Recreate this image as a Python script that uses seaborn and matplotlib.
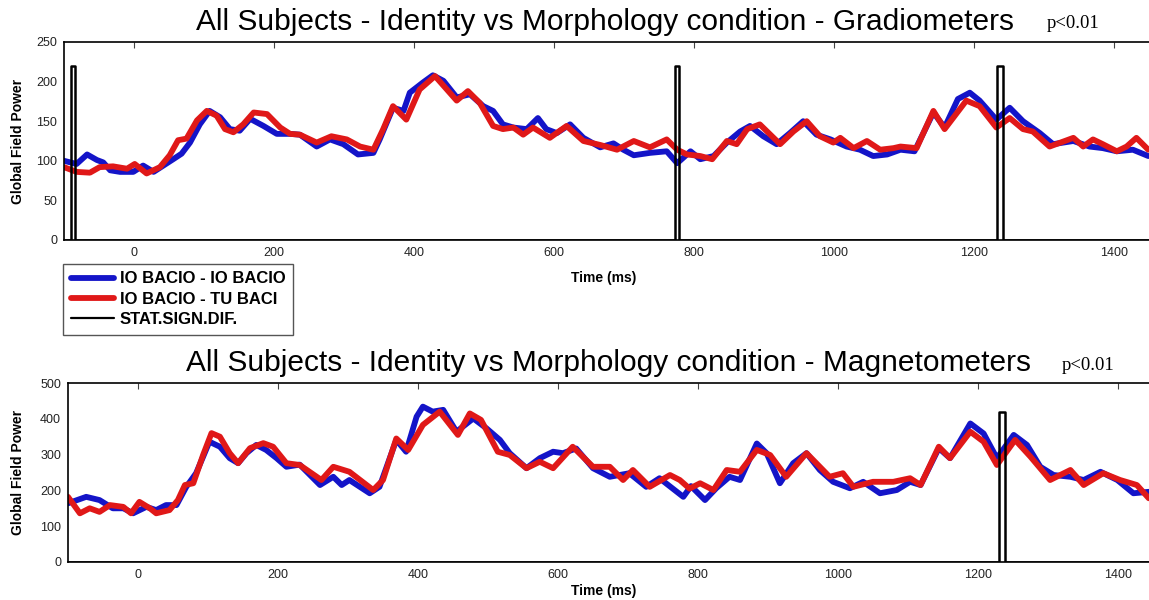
import numpy as np
import pandas as pd
import matplotlib
matplotlib.use("Agg")
import matplotlib.pyplot as plt
import seaborn as sns

# ---------------- data ----------------
grad_blue_t = [-100, -82, -67, -53, -44, -34, -20, -1, 13, 28, 42, 56, 68, 80, 94, 108, 123, 137, 151, 166,
               185, 204, 223, 237, 261, 280, 299, 320, 342, 351, 370, 385, 394, 413, 427, 442, 461, 480, 499,
               513, 527, 542, 561, 577, 589, 604, 623, 642, 666, 685, 699, 714, 737, 761, 776, 795, 809, 828,
               847, 866, 880, 899, 918, 937, 956, 975, 995, 1018, 1037, 1056, 1076, 1095, 1115, 1142, 1158,
               1177, 1194, 1208, 1232, 1251, 1270, 1294, 1313, 1342, 1365, 1384, 1404, 1427, 1449]
grad_blue_v = [100, 96, 108, 101, 98, 88, 86, 86, 94, 86, 94, 102, 109, 123, 146, 163, 155, 140, 138, 153,
               144, 134, 134, 133, 118, 127, 121, 108, 110, 127, 167, 163, 186, 199, 208, 201, 180, 184, 169,
               163, 146, 142, 140, 154, 140, 135, 146, 129, 117, 122, 114, 107, 110, 112, 97, 112, 102, 106,
               123, 137, 144, 131, 121, 135, 150, 133, 127, 118, 114, 106, 108, 114, 112, 161, 142,
               178, 186, 176, 152, 167, 150, 135, 121, 125, 118, 116, 112, 114, 106]

grad_red_t = [-100, -82, -63, -49, -30, -10, 1, 18, 37, 51, 63, 75, 90, 104, 118, 130, 142, 156, 171, 190,
              209, 223, 237, 261, 282, 304, 323, 342, 356, 370, 389, 408, 430, 447, 461, 477, 494, 513, 527,
              542, 556, 570, 594, 618, 642, 666, 690, 714, 737, 761, 776, 790, 809, 826, 847, 861, 876, 894,
              923, 942, 961, 980, 999, 1009, 1028, 1047, 1066, 1085, 1095, 1118, 1142, 1158, 1189, 1208,
              1232, 1251, 1270, 1284, 1308, 1342, 1356, 1370, 1384, 1404, 1418, 1432, 1449]
grad_red_v = [92, 86, 85, 92, 93, 90, 96, 84, 92, 107, 126, 128, 151, 163, 157, 140, 136, 146, 161, 159,
              142, 134, 133, 123, 131, 127, 118, 114, 140, 169, 152, 190, 207, 190, 176, 188, 173, 144, 140,
              142, 133, 142, 129, 144, 125, 120, 114, 125, 117, 127, 114, 108, 106, 102, 125, 121, 140, 146,
              121, 137, 150, 131, 123, 129, 116, 125, 114, 116, 118, 116, 163, 140, 176, 169,
              142, 154, 140, 137, 118, 129, 118, 127, 121, 112, 118, 129, 114]

mag_blue_t = [-100, -74, -55, -36, -21, -7, 12, 26, 40, 55, 69, 83, 93, 102, 117, 131, 143, 155, 169, 183,
              198, 212, 231, 260, 279, 291, 302, 331, 345, 369, 383, 398, 407, 421, 436, 455, 479, 498, 517,
              531, 555, 574, 593, 607, 626, 650, 674, 702, 726, 745, 779, 790, 810, 826, 845, 860, 884, 898,
              917, 936, 955, 974, 993, 1017, 1036, 1060, 1084, 1103, 1118, 1144, 1160, 1189, 1208, 1227,
              1251, 1270, 1289, 1308, 1332, 1351, 1375, 1399, 1422, 1444]
mag_blue_v = [164, 182, 173, 150, 150, 136, 154, 145, 159, 159, 210, 248, 294, 336, 322, 290, 276, 304, 327, 313,
              290, 266, 272, 215, 238, 215, 229, 192, 210, 341, 308, 406, 434, 420, 425, 364, 401, 373, 341,
              304, 262, 290, 308, 304, 317, 262, 238, 248, 210, 234, 182, 212, 173, 206, 238, 229, 331, 304,
              220, 276, 304, 257, 224, 206, 224, 192, 201, 224, 215, 318, 290, 387, 359, 290,
              355, 327, 266, 243, 238, 229, 252, 229, 192, 196]

mag_red_t = [-100, -83, -69, -55, -40, -21, -10, 2, 17, 26, 45, 57, 67, 79, 93, 105, 117, 131, 143, 160,
             179, 193, 212, 231, 262, 279, 302, 336, 350, 369, 386, 407, 431, 457, 474, 490, 514, 531, 555,
             574, 593, 621, 650, 674, 693, 707, 731, 760, 774, 788, 803, 822, 841, 860, 884, 903, 926, 955,
             974, 988, 1007, 1022, 1050, 1079, 1103, 1118, 1144, 1160, 1189, 1208, 1227, 1253, 1275, 1303,
             1332, 1351, 1379, 1403, 1427, 1444]
mag_red_v = [182, 136, 150, 140, 159, 154, 136, 168, 150, 136, 145, 173, 215, 220, 299, 360, 350, 304, 276, 318,
             332, 322, 276, 271, 229, 266, 252, 201, 229, 345, 313, 383, 420, 355, 415, 397, 308, 299, 262,
             280, 262, 322, 266, 266, 229, 257, 210, 243, 229, 205, 220, 201, 257, 252, 313, 299, 238, 304,
             266, 238, 248, 210, 224, 224, 234, 215, 322, 290, 364, 336, 271, 341, 294, 229,
             257, 215, 248, 229, 215, 178]

# significance windows (ms) and marker heights
grad_sig_windows = [(-90, -84), (773, 779), (1233, 1241)]
grad_sig_height = 220
mag_sig_windows = [(1230, 1239)]
mag_sig_height = 420

labels = ["IO BACIO - IO BACIO", "IO BACIO - TU BACI", "STAT.SIGN.DIF."]
title_grad = "All Subjects - Identity vs Morphology condition - Gradiometers"
title_mag = "All Subjects - Identity vs Morphology condition - Magnetometers"
x_ticks = [0, 200, 400, 600, 800, 1000, 1200, 1400]
grad_yticks = [0, 50, 100, 150, 200, 250]
mag_yticks = [0, 100, 200, 300, 400, 500]
t_min, t_max = -100, 1460

# ---------------- style ----------------
sns.set_style("white")
plt.rcParams["font.family"] = ["Liberation Sans", "DejaVu Sans"]
plt.rcParams["text.color"] = "black"

BLUE = "#1414c8"
RED = "#e01818"

W, H = 1149, 600
fig = plt.figure(figsize=(W / 100, H / 100), dpi=100)


def px_axes(left, top, right, bottom):
    return fig.add_axes([left / W, 1 - bottom / H, (right - left) / W, (bottom - top) / H])


def sig_trace(windows, height):
    ts, vs = [t_min], [0]
    for a, b in windows:
        ts += [a, a, b, b]
        vs += [0, height, height, 0]
    ts.append(t_max)
    vs.append(0)
    return pd.DataFrame({"t": ts, "v": vs})


def panel(ax, bt, bv, rt, rv, windows, height, yticks):
    sns.lineplot(x=bt, y=bv, ax=ax, color=BLUE, lw=4.2, label=labels[0], estimator=None, sort=False)
    sns.lineplot(x=rt, y=rv, ax=ax, color=RED, lw=4.2, label=labels[1], estimator=None, sort=False)
    st = sig_trace(windows, height)
    sns.lineplot(data=st, x="t", y="v", ax=ax, color="black", lw=1.8, label=labels[2],
                 estimator=None, sort=False)
    ax.set_xlim(t_min, t_max)
    ax.set_ylim(yticks[0], yticks[-1])
    ax.set_xticks(x_ticks)
    ax.set_yticks(yticks)
    ax.set_xlabel("")
    ax.set_ylabel("")
    ax.tick_params(direction="in", length=4, width=0.8, top=True, right=True,
                   labelsize=9, labelcolor="#222222", color="#444444", pad=5)
    for s in ax.spines.values():
        s.set_color("black")
        s.set_linewidth(1.2)
    leg = ax.get_legend()
    if leg is not None:
        leg.remove()


ax1 = px_axes(64, 42, 1156, 240)
panel(ax1, grad_blue_t, grad_blue_v, grad_red_t, grad_red_v, grad_sig_windows, grad_sig_height, grad_yticks)
ax2 = px_axes(68, 383, 1160, 562)
panel(ax2, mag_blue_t, mag_blue_v, mag_red_t, mag_red_v, mag_sig_windows, mag_sig_height, mag_yticks)

# titles
fig.text(605 / W, 1 - 22 / H, title_grad, ha="center", va="center", fontsize=21.5, color="black")
fig.text(1073 / W, 1 - 24 / H, "p<0.01", ha="center", va="center", fontsize=13.5, color="black",
         family=["Liberation Serif", "DejaVu Serif"])
fig.text(608 / W, 1 - 363 / H, title_mag, ha="center", va="center", fontsize=21.5, color="black")
fig.text(1088 / W, 1 - 365 / H, "p<0.01", ha="center", va="center", fontsize=13.5, color="black",
         family=["Liberation Serif", "DejaVu Serif"])

# axis labels
for y in (278, 591):
    fig.text(604 / W, 1 - y / H, "Time (ms)", ha="center", va="center", fontsize=10, fontweight="bold")
for y in (141, 472):
    fig.text(18 / W, 1 - y / H, "Global Field Power", ha="center", va="center", rotation=90,
             fontsize=10, fontweight="bold")

# legend
h = [plt.Line2D([], [], color=BLUE, lw=4.2), plt.Line2D([], [], color=RED, lw=4.2),
     plt.Line2D([], [], color="black", lw=1.6)]
fig.legend(h, labels, loc="upper left", bbox_to_anchor=(63 / W, 1 - 264 / H), borderaxespad=0,
           frameon=True, fancybox=False, edgecolor="#555555", framealpha=1,
           prop={"weight": "bold", "size": 12}, handlelength=2.6, handletextpad=0.35,
           labelspacing=0.32, borderpad=0.45)

fig.savefig("out.png", dpi=100)
